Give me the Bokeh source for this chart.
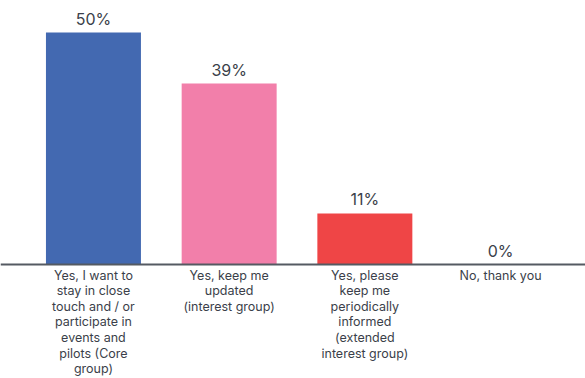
from bokeh.plotting import figure
from bokeh.models import Range1d, ColumnDataSource, Span
from bokeh.core.properties import value
from bokeh.embed import file_html
from bokeh.resources import INLINE

categories = [
    "Yes, I want to\nstay in close\ntouch and / or\nparticipate in\nevents and\npilots (Core\ngroup)",
    "Yes, keep me\nupdated\n(interest group)",
    "Yes, please\nkeep me\nperiodically\ninformed\n(extended\ninterest group)",
    "No, thank you",
]
values = [50, 39, 11, 0]
value_labels = ["50%", "39%", "11%", "0%"]
colors = ["#4369B1", "#F27FAA", "#EF4546", "#FFFFFF"]

xs = list(range(len(categories)))
src = ColumnDataSource(dict(x=xs, top=values, lab=value_labels, cat=categories, color=colors))

p = figure(width=585, height=378, output_backend="svg", toolbar_location=None,
           x_range=Range1d(-0.685, 3.626), y_range=Range1d(-24.57, 56.9),
           min_border=0, min_border_left=0, min_border_right=0,
           min_border_top=0, min_border_bottom=0)
p.axis.visible = False
p.grid.visible = False
p.outline_line_color = None
p.background_fill_color = "white"
p.border_fill_color = "white"

p.vbar(x="x", top="top", bottom=0, width=0.7, fill_color="color", line_color=None, source=src)

p.add_layout(Span(location=0, dimension="width", line_color="#555a62", line_width=2))

p.text(x="x", y="top", text="lab", source=src, text_align="center", text_baseline="bottom",
       y_offset=-4, text_font=value("Inter"), text_font_size="16px", text_color="#3b3f4a")

p.text(x="x", y=0, text="cat", source=src, text_align="center", text_baseline="top",
       y_offset=3, text_font=value("Inter"), text_font_size="12.5px", text_color="#3b3f4a",
       text_line_height=1.04)

open("out.html", "w").write(file_html(p, INLINE))
